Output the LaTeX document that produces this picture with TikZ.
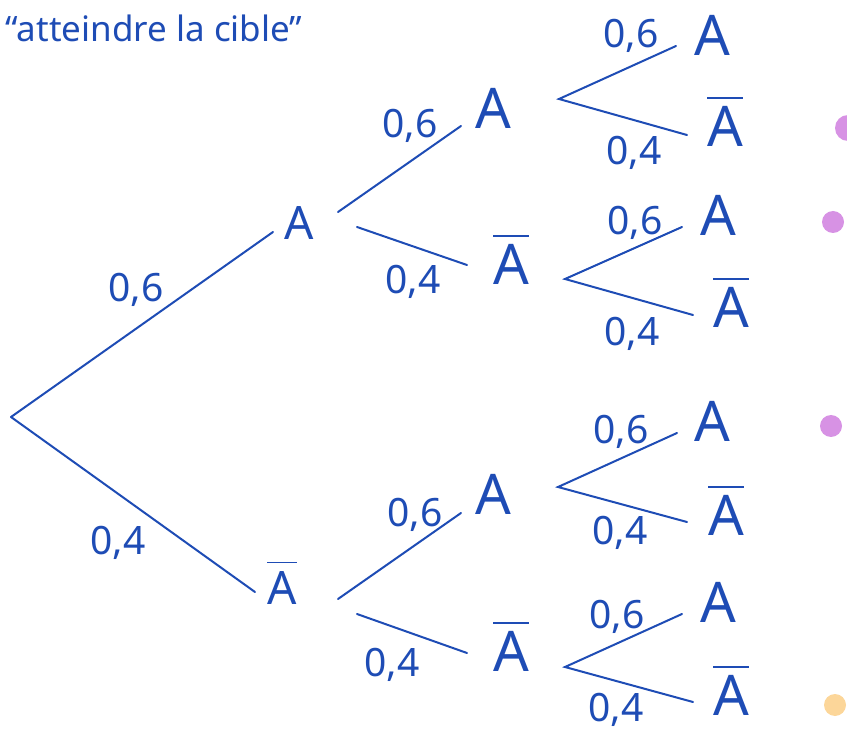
\documentclass[tikz,border=0pt]{standalone}
\usepackage{fontspec}
\setmainfont{Noto Sans}
\definecolor{pen}{HTML}{1E4CB5}
\definecolor{lilas}{HTML}{D792E4}
\definecolor{abricot}{HTML}{FCD699}
\newcommand{\nonA}{\vbox{\hrule height 1.8pt\kern 8pt\hbox{A}}}

\begin{document}
\begin{tikzpicture}[
  x=1pt, y=-1pt,
  br/.style={draw=pen, line width=2pt, line cap=round},
  ev/.style={text=pen, inner sep=0pt, font=\fontsize{56}{56}\selectfont},
  evone/.style={ev, font=\fontsize{46}{46}\selectfont},
  pr/.style={text=pen, inner sep=0pt, font=\fontsize{39}{39}\selectfont},
  titre/.style={text=pen, inner sep=0pt, font=\fontsize{35}{35}\selectfont},
  dot/.style={circle, inner sep=0pt, minimum size=22pt, fill=lilas}
]
\useasboundingbox (0,0) rectangle (847,735);

\node[titre] (titre) at (154,28) {“atteindre la cible”};

% ---------- niveau 1 ----------
\coordinate (r) at (11,417);
\node[evone] (a1) at (299,223) {A};
\node[evone] (b1) at (282,583) {\nonA};
\draw[br] (r) -- ([shift={(-26,9)}]a1.center);
\draw[br] (r) -- ([shift={(-27,9)}]b1.center);
\node[pr] (w1) at (136,290) {0,6};
\node[pr] (w2) at (118,543) {0,4};

% ---------- niveau 2 ----------
\node[ev] (a2) at (493,108) {A};
\node[ev] (b2) at (511,260) {\nonA};
\node[ev] (a3) at (493,494) {A};
\node[ev] (b3) at (511,647) {\nonA};
\draw[br] ([shift={(39,-11)}]a1.center) -- ([shift={(-32,18)}]a2.center);
\draw[br] ([shift={(58,4)}]a1.center) -- ([shift={(-44,5)}]b2.center);
\draw[br] ([shift={(56,16)}]b1.center) -- ([shift={(-32,19)}]a3.center);
\draw[br] ([shift={(75,31)}]b1.center) -- ([shift={(-44,6)}]b3.center);
\node[pr] (w3) at (410,126) {0,6};
\node[pr] (w4) at (413,282) {0,4};
\node[pr] (w5) at (415,515) {0,6};
\node[pr] (w6) at (392,665) {0,4};

% ---------- niveau 3 ----------
\coordinate (v1) at (559,99);
\coordinate (v2) at (565,279);
\coordinate (v3) at (558,487);
\coordinate (v4) at (565,667);
\node[ev] (l1a) at (712,35) {A};
\node[ev] (l1b) at (725,122) {\nonA};
\node[ev] (l2a) at (718,215) {A};
\node[ev] (l2b) at (731,303) {\nonA};
\node[ev] (l3a) at (712,421) {A};
\node[ev] (l3b) at (726,511) {\nonA};
\node[ev] (l4a) at (718,602) {A};
\node[ev] (l4b) at (731,691) {\nonA};
\draw[br] ([shift={(-36,11)}]l1a.center) -- (v1) -- ([shift={(-38,13)}]l1b.center);
\draw[br] ([shift={(-36,12)}]l2a.center) -- (v2) -- ([shift={(-38,12)}]l2b.center);
\draw[br] ([shift={(-35,12)}]l3a.center) -- (v3) -- ([shift={(-39,11)}]l3b.center);
\draw[br] ([shift={(-36,12)}]l4a.center) -- (v4) -- ([shift={(-38,11)}]l4b.center);
\node[pr] (w7) at (631,36) {0,6};
\node[pr] (w8) at (634,153) {0,4};
\node[pr] (w9) at (635,223) {0,6};
\node[pr] (w10) at (632,334) {0,4};
\node[pr] (w11) at (621,432) {0,6};
\node[pr] (w12) at (620,533) {0,4};
\node[pr] (w13) at (617,617) {0,6};
\node[pr] (w14) at (616,710) {0,4};

% ---------- pastilles ----------
\node[dot, minimum size=26pt] (d1) at (848,128) {};
\node[dot] (d2) at (833,222) {};
\node[dot] (d3) at (831,426) {};
\node[dot, fill=abricot] (d4) at (835,705) {};

\end{tikzpicture}
\end{document}
